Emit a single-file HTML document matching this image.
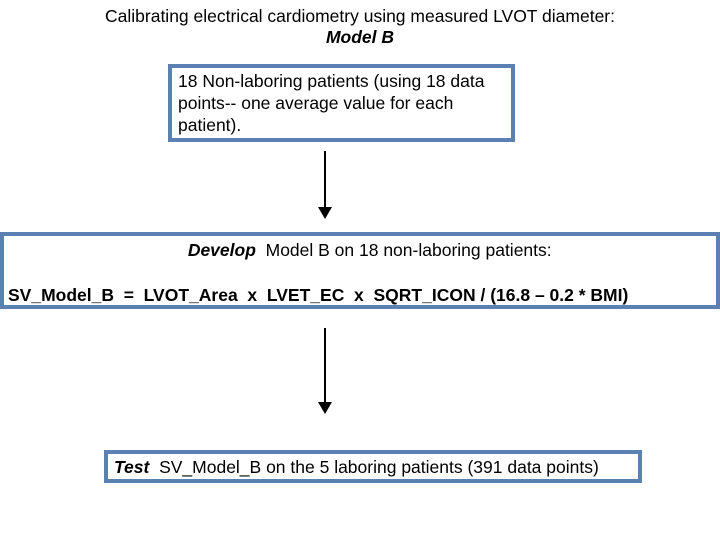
<!DOCTYPE html>
<html><head><style>
body{margin:0;width:720px;height:540px;background:#fff;position:relative;overflow:hidden;font-family:"Liberation Sans",Arial,sans-serif;color:#000}
.t{position:absolute;left:0;width:720px;text-align:center;font-size:17.5px}
.box{position:absolute;border:4px solid #5b80b2;box-sizing:border-box;background:#fff;font-size:17.5px}
.line{position:absolute;width:2px;background:#000}
.ah{position:absolute;width:0;height:0;border-left:7px solid transparent;border-right:7px solid transparent;border-top:12px solid #000}
</style></head><body>
<div class="t" style="top:6px">Calibrating electrical cardiometry using measured LVOT diameter:</div>
<div class="t" style="top:27px"><b><i>Model B</i></b></div>
<div class="box" style="left:168px;top:64px;width:347px;height:78px;padding:2px 6px;line-height:22px;white-space:nowrap">18 Non-laboring patients (using 18 data<br>points-- one average value for each<br>patient).</div>
<div class="line" style="left:324px;top:151px;height:57px"></div>
<div class="ah" style="left:318px;top:207px"></div>
<div class="box" style="left:0;top:232px;width:720px;height:77px">
<div style="position:absolute;left:0;right:0;top:4px;text-align:center;white-space:pre">    <b><i>Develop</i></b>  Model B on 18 non-laboring patients:</div>
<div style="position:absolute;left:4px;top:49px;font-weight:bold;white-space:pre">SV_Model_B  =  LVOT_Area  x  LVET_EC  x  SQRT_ICON / (16.8 – 0.2 * BMI)</div>
</div>
<div class="line" style="left:324px;top:328px;height:75px"></div>
<div class="ah" style="left:318px;top:402px"></div>
<div class="box" style="left:104px;top:450px;width:538px;height:33px;padding:3px 6px;line-height:20px;white-space:pre"><b><i>Test</i></b>  SV_Model_B on the 5 laboring patients (391 data points)</div>
</body></html>
